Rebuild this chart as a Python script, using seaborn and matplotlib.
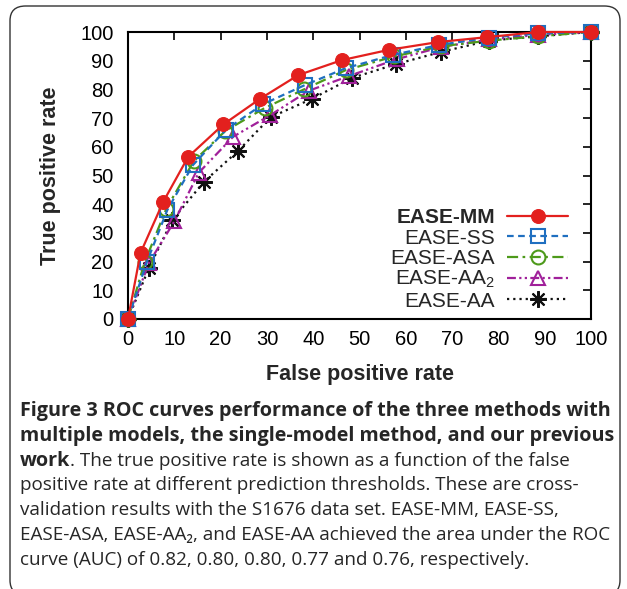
import matplotlib
matplotlib.use("Agg")
import matplotlib.pyplot as plt
import seaborn as sns
from matplotlib.patches import FancyBboxPatch

# ---- data ----
series_names = ["EASE-MM", "EASE-SS", "EASE-ASA", r"EASE-AA$_\mathregular{2}$", "EASE-AA"]

mm_fpr = [0, 2.7, 7.6, 13.0, 20.6, 28.5, 36.8, 46.2, 56.4, 67.0, 77.5, 88.6, 100]
mm_tpr = [0, 23.0, 40.8, 56.5, 67.8, 76.7, 85.0, 90.2, 93.8, 96.5, 98.2, 100, 100]

ss_fpr = [0, 4.1, 8.5, 14.0, 21.2, 29.1, 38.2, 47.0, 57.2, 67.2, 77.9, 88.6, 100]
ss_tpr = [0, 20.0, 38.0, 53.6, 66.0, 74.8, 81.5, 87.4, 92.0, 95.5, 98.0, 99.5, 100]

asa_fpr = [0, 3.6, 8.3, 14.2, 21.0, 29.5, 38.0, 47.0, 57.5, 67.5, 78.0, 88.6, 100]
asa_tpr = [0, 19.8, 38.5, 55.0, 65.5, 73.5, 80.0, 86.7, 91.5, 95.0, 97.0, 98.5, 100]

aa2_fpr = [0, 4.5, 10.0, 15.3, 22.7, 30.7, 39.0, 47.8, 58.0, 67.7, 78.0, 88.6, 100]
aa2_tpr = [0, 19.5, 34.0, 51.0, 63.5, 71.0, 79.5, 84.7, 90.5, 94.8, 97.4, 99.0, 100]

aa_fpr = [0, 4.5, 9.6, 16.4, 23.8, 30.8, 39.7, 48.4, 57.9, 67.7, 78.0, 88.6, 100]
aa_tpr = [0, 17.7, 34.5, 47.8, 58.6, 70.3, 76.7, 84.0, 88.8, 93.1, 97.0, 98.5, 100]

ticks = [0, 10, 20, 30, 40, 50, 60, 70, 80, 90, 100]

caption_bold_1 = "Figure 3 ROC curves performance of the three methods with"
caption_bold_2 = "multiple models, the single-model method, and our previous"
caption_bold_3 = "work"
caption_rest = [
    ". The true positive rate is shown as a function of the false",
    "positive rate at different prediction thresholds. These are cross-",
    "validation results with the S1676 data set. EASE-MM, EASE-SS,",
    "EASE-ASA, EASE-AA\u2082, and EASE-AA achieved the area under the ROC",
    "curve (AUC) of 0.82, 0.80, 0.80, 0.77 and 0.76, respectively.",
]

# ---- style ----
sns.set_style("white")
plt.rcParams["font.family"] = ["Liberation Sans", "DejaVu Sans"]
plt.rcParams["mathtext.fontset"] = "custom"
plt.rcParams["mathtext.rm"] = "Liberation Sans"
plt.rcParams["mathtext.it"] = "Liberation Sans:italic"
plt.rcParams["mathtext.bf"] = "Liberation Sans:bold"

W, H = 627, 589
fig = plt.figure(figsize=(W / 100, H / 100), dpi=100)
fig.patch.set_facecolor("white")

# rounded frame
frame = FancyBboxPatch((10 / W, -6 / H), 610 / W, 589 / H,
                       boxstyle="round,pad=0,rounding_size=0.025",
                       transform=fig.transFigure, fill=False,
                       edgecolor="#333333", linewidth=1.0)
fig.patches.append(frame)

ax = fig.add_axes([128 / W, 1 - 319 / H, (591 - 128) / W, (319 - 32) / H])
ax.set_facecolor("white")

specs = [
    (mm_fpr, mm_tpr, "#e3201e", "-", "o", dict(markersize=10, markerfacecolor="#e3201e", markeredgecolor="#e3201e")),
    (ss_fpr, ss_tpr, "#1f6fc0", (0, (3, 2)), "s", dict(markersize=10, markerfacecolor="none", markeredgecolor="#1f6fc0", markeredgewidth=1.5)),
    (asa_fpr, asa_tpr, "#4d9a1a", (0, (5, 2, 1.2, 2)), "o", dict(markersize=10, markerfacecolor="none", markeredgecolor="#4d9a1a", markeredgewidth=1.5)),
    (aa2_fpr, aa2_tpr, "#a0209a", (0, (4, 1.5, 1, 1.5, 1, 1.5)), "^", dict(markersize=10, markerfacecolor="none", markeredgecolor="#a0209a", markeredgewidth=1.5)),
    (aa_fpr, aa_tpr, "#111111", (0, (1, 1.8)), (8, 2, 0), dict(markersize=12, markeredgecolor="#111111", markeredgewidth=1.5)),
]

for (xs, ys, c, ls, mk, mkw), name in zip(specs[::-1], series_names[::-1]):
    sns.lineplot(x=xs, y=ys, ax=ax, color=c, linestyle=ls, marker=mk,
                 linewidth=1.6, estimator=None, sort=False, label=name,
                 clip_on=False, **mkw)

ax.set_xlim(0, 100)
ax.set_ylim(0, 100)
ax.set_xticks(ticks)
ax.set_yticks(ticks)
ax.set_xticklabels([str(t) for t in ticks])
ax.set_yticklabels([str(t) for t in ticks])
ax.tick_params(direction="in", length=6, width=1.2, top=True, right=True,
               labelsize=14.5, colors="black")
ax.tick_params(axis="y", pad=10.5)
ax.tick_params(axis="x", pad=8)
for sp in ax.spines.values():
    sp.set_visible(True)
    sp.set_color("black")
    sp.set_linewidth(1.5)
    sp.set_zorder(1)

ax.set_xlabel("False positive rate", fontsize=15.5, fontweight="bold", labelpad=11)
ax.set_ylabel("True positive rate", fontsize=15.5, fontweight="bold", labelpad=14)

h, l = ax.get_legend_handles_labels()
h, l = h[::-1], l[::-1]
leg = ax.legend(h, l, loc="lower right", bbox_to_anchor=(0.968, 0.0),
                markerfirst=False, frameon=False, fontsize=15,
                handlelength=2.9, handletextpad=0.6, labelspacing=0.06,
                borderaxespad=0)
leg.get_texts()[0].set_fontweight("bold")
for col in leg._legend_handle_box.get_children():
    col.align = "right"

# ---- caption ----
cap_font = ["Open Sans", "DejaVu Sans"]
bold_size = 14.2
reg_size = 13.6
x0 = 20 / W
line_y = [411, 436, 461, 485, 510, 535, 560]
fig.text(x0, 1 - line_y[0] / H, caption_bold_1, fontsize=bold_size, fontweight="bold",
         family=cap_font, va="center", ha="left")
fig.text(x0, 1 - line_y[1] / H, caption_bold_2, fontsize=bold_size, fontweight="bold",
         family=cap_font, va="center", ha="left")
tb = fig.text(x0, 1 - (line_y[2] + 5) / H, caption_bold_3, fontsize=bold_size, fontweight="bold",
              family=cap_font, va="baseline", ha="left")
fig.canvas.draw()
bb = tb.get_window_extent(fig.canvas.get_renderer())
fig.text(bb.x1 / W, 1 - (line_y[2] + 5) / H, caption_rest[0], fontsize=reg_size,
         family=cap_font, va="baseline", ha="left")
for i, line in enumerate(caption_rest[1:]):
    fig.text(x0, 1 - line_y[3 + i] / H, line, fontsize=reg_size,
             family=cap_font, va="center", ha="left")

fig.savefig("out.png", dpi=100, facecolor="white")
